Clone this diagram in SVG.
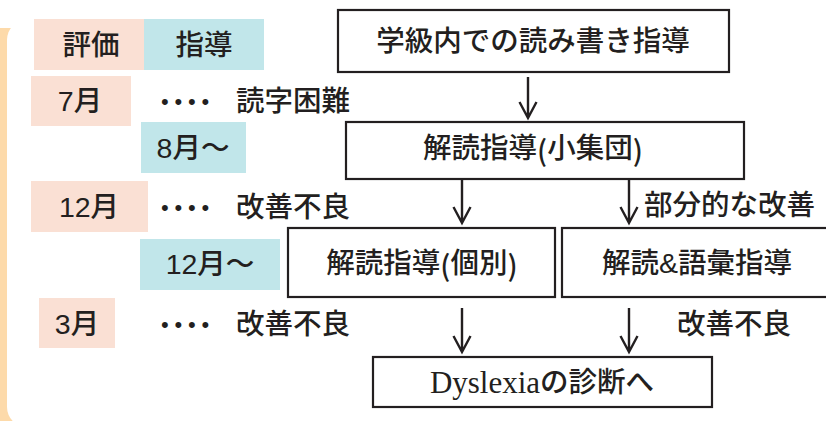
<svg xmlns="http://www.w3.org/2000/svg" width="826" height="421" viewBox="0 0 826 421">
<style>
.t{font-family:"Liberation Sans","Noto Sans CJK JP",sans-serif;font-size:28.5px;font-weight:500;fill:#231f20;dominant-baseline:central}
.m{text-anchor:middle}
.j{font-family:"Noto Sans CJK JP",sans-serif}
.sal{fill:#fae0d4}
.blu{fill:#c1e6ea}
.box{fill:#fff;stroke:#231f20;stroke-width:2.2}
.dots{font-family:"Liberation Sans",sans-serif;font-size:22px;fill:#231f20;letter-spacing:5.8px;dominant-baseline:central}
.ar{fill:none;stroke:#231f20;stroke-width:2.4}
</style>
<rect width="826" height="421" fill="#fff"/>
<g id="frame">
<rect x="0" y="28" width="40" height="393" fill="#fddaaa"/>
<rect x="7" y="20" width="840" height="407" rx="20" fill="#fff"/>
</g>
<g id="legend">
<g id="hyoka"><rect class="sal" x="34" y="19" width="110" height="51"/><text class="t m" x="91" y="45">評価</text></g>
<g id="shido"><rect class="blu" x="144" y="19" width="120" height="51"/><text class="t m" x="204" y="45">指導</text></g>
</g>
<g id="timeline">
<g id="m7"><rect class="sal" x="31" y="76" width="100" height="50"/><text class="t m" x="80" y="101">7月</text></g>
<text class="dots" x="161" y="101">••••</text>
<text class="t" x="236" y="101">読字困難</text>
<g id="m8"><rect class="blu" x="141" y="122" width="105" height="51"/><text class="t m" x="193" y="148">8月～</text></g>
<g id="m12"><rect class="sal" x="31" y="181" width="117" height="51"/><text class="t m" x="89" y="207">12月</text></g>
<text class="dots" x="161" y="207">••••</text>
<text class="t" x="236" y="207">改善不良</text>
<g id="m12b"><rect class="blu" x="140" y="239" width="140" height="51"/><text class="t m" x="210" y="264">12月～</text></g>
<g id="m3"><rect class="sal" x="39" y="298" width="76" height="50"/><text class="t m" x="77" y="324">3月</text></g>
<text class="dots" x="161" y="324">••••</text>
<text class="t" x="236" y="324">改善不良</text>
</g>
<g id="n1"><rect class="box" x="338" y="10" width="391" height="62"/><text class="t m" x="533" y="41">学級内での読み書き指導</text></g>
<g id="n2"><rect class="box" x="346" y="122" width="398" height="57"/><text class="t m" x="533" y="148">解読指導<tspan class="j">(</tspan>小集団<tspan class="j">)</tspan></text></g>
<g id="n3"><rect class="box" x="288" y="228" width="267" height="69"/><text class="t m" x="422" y="263">解読指導<tspan class="j">(</tspan>個別<tspan class="j">)</tspan></text></g>
<g id="n4"><rect class="box" x="562" y="228" width="280" height="69"/><text class="t m" x="697" y="263">解読&amp;語彙指導</text></g>
<g id="n5"><rect class="box" x="373" y="357" width="339" height="50"/><text class="t m" x="542" y="382"><tspan style="font-family:'Liberation Serif',serif;font-size:31px;font-weight:400">Dyslexia</tspan>の診断へ</text></g>
<g id="connectors">
<path class="ar" d="M528 77V117M519.5 102L528 118L536.5 102"/>
<path class="ar" d="M462 180V222M453.5 207L462 223L470.5 207"/>
<path class="ar" d="M629 180V222M620.5 207L629 223L637.5 207"/>
<path class="ar" d="M462 308V351M453.5 336L462 352L470.5 336"/>
<path class="ar" d="M629 308V351M620.5 336L629 352L637.5 336"/>
<text class="t" x="644" y="205">部分的な改善</text>
<text class="t" x="677" y="324">改善不良</text>
</g>
</svg>
